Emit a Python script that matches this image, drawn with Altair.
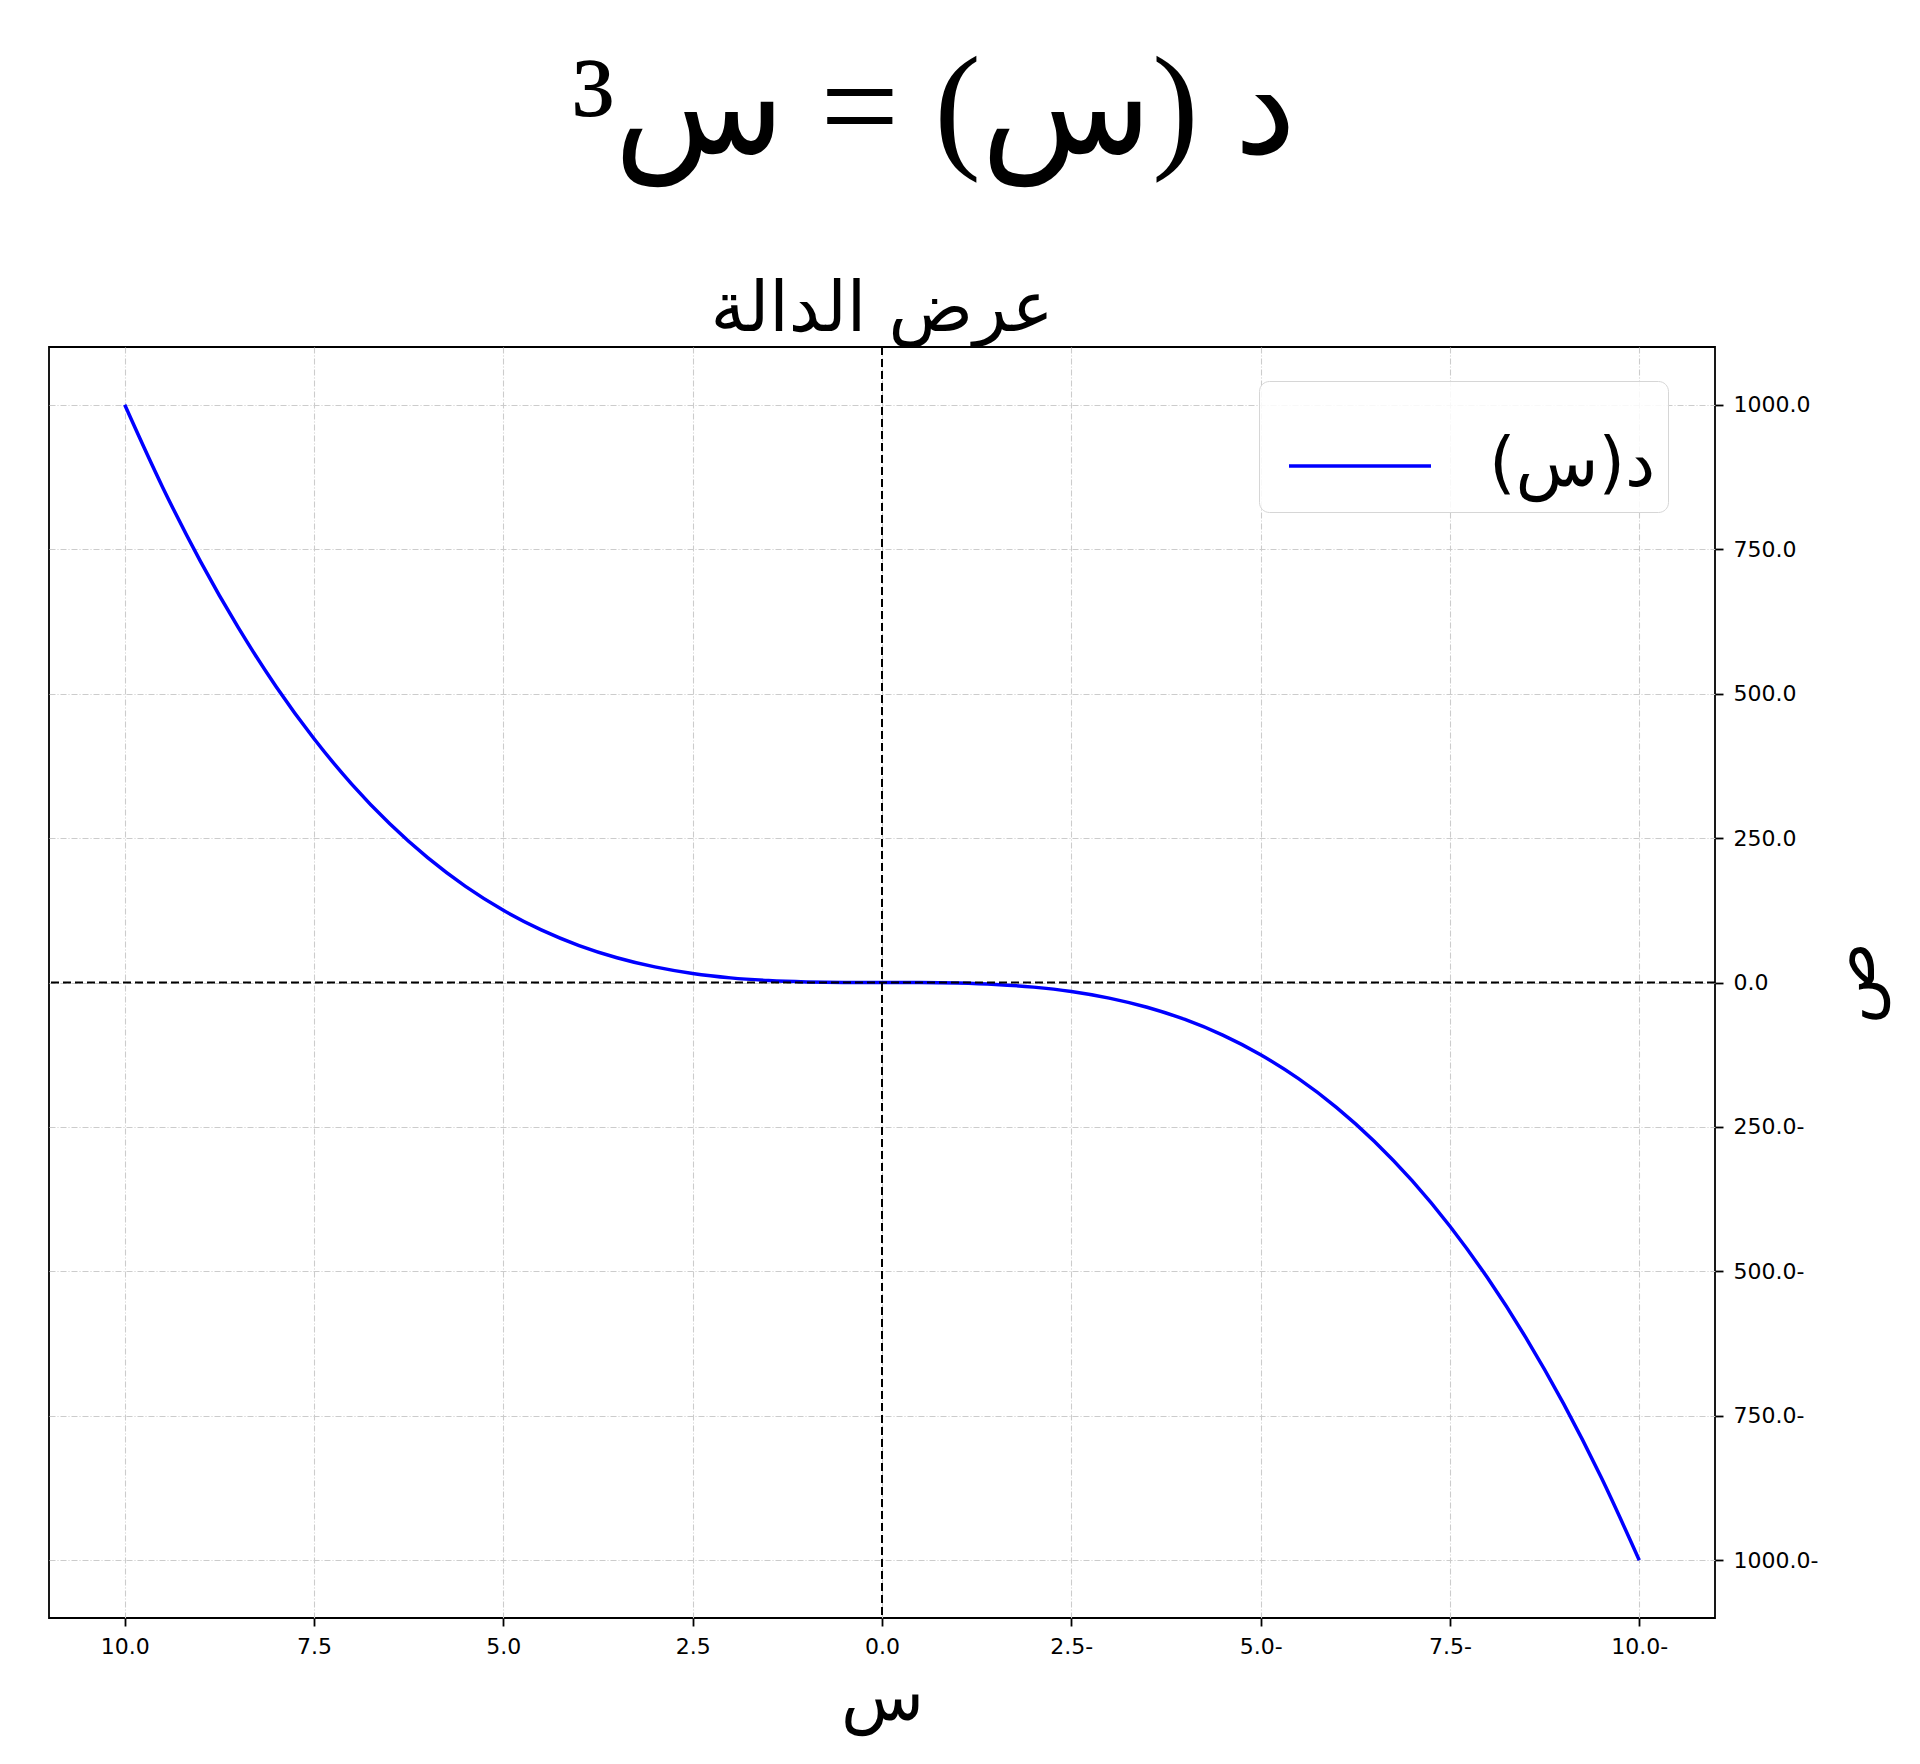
import altair as alt
import pandas as pd

# ---- data ----
x_vals = [-10.0, -9.5, -9.0, -8.5, -8.0, -7.5, -7.0, -6.5, -6.0, -5.5, -5.0,
          -4.5, -4.0, -3.5, -3.0, -2.5, -2.0, -1.5, -1.0, -0.5, 0.0,
          0.5, 1.0, 1.5, 2.0, 2.5, 3.0, 3.5, 4.0, 4.5, 5.0,
          5.5, 6.0, 6.5, 7.0, 7.5, 8.0, 8.5, 9.0, 9.5, 10.0]
y_vals = [-1000.0, -857.4, -729.0, -614.1, -512.0, -421.9, -343.0, -274.6, -216.0, -166.4, -125.0,
          -91.1, -64.0, -42.9, -27.0, -15.6, -8.0, -3.4, -1.0, -0.1, 0.0,
          0.1, 1.0, 3.4, 8.0, 15.6, 27.0, 42.9, 64.0, 91.1, 125.0,
          166.4, 216.0, 274.6, 343.0, 421.9, 512.0, 614.1, 729.0, 857.4, 1000.0]
x_ticks = [10.0, 7.5, 5.0, 2.5, 0.0, -2.5, -5.0, -7.5, -10.0]
y_ticks = [1000.0, 750.0, 500.0, 250.0, 0.0, -250.0, -500.0, -750.0, -1000.0]
zero_x = [0.0]
zero_y = [0.0]

RLE, PDF = "\u202B", "\u202C"
series_name = RLE + "د(س)" + PDF
main_title = RLE + "د (س) = س³" + PDF
sub_title = "عرض الدالة"
x_title = "س"
y_title = "ص"

df = pd.DataFrame({"x": x_vals, "y": y_vals, "series": [series_name] * len(x_vals)})
zdf = pd.DataFrame({"x": zero_x, "y": zero_y})

label_expr = "datum.value < 0 ? format(-datum.value, '.1f') + '-' : format(datum.value, '.1f')"

common_axis = dict(
    labelExpr=label_expr, labelFont="DejaVu Sans", labelFontSize=22, labelColor="black",
    tickSize=8, tickWidth=1.8, tickColor="black", domain=False,
    grid=True, gridDash=[6, 2, 1, 2], gridColor="#cccccc", gridWidth=1.1,
    titleFont="DejaVu Sans", titleFontSize=68, titleFontWeight="normal", titleColor="black",
)
x_axis = alt.Axis(values=x_ticks, labelPadding=10, titlePadding=8, **common_axis)
y_axis = alt.Axis(values=y_ticks, orient="right", labelPadding=10, titlePadding=70,
                  titleAngle=270, **common_axis)

xscale = alt.Scale(domain=[-11, 11], reverse=True, nice=False, zero=False)
yscale = alt.Scale(domain=[-1100, 1100], nice=False, zero=False)

line = alt.Chart(df).mark_line(strokeWidth=3.5, interpolate="monotone").encode(
    x=alt.X("x:Q", scale=xscale, title=x_title, axis=x_axis),
    y=alt.Y("y:Q", scale=yscale, title=y_title, axis=y_axis),
    color=alt.Color("series:N", scale=alt.Scale(range=["#0000ff"]),
                    legend=alt.Legend(title=None, orient="none", legendX=1210, legendY=34,
                                      symbolType="stroke", symbolSize=20164, symbolStrokeWidth=3.5,
                                      symbolOffset=16,
                                      labelFont="DejaVu Sans", labelFontSize=68, labelColor="black",
                                      labelLimit=500, labelOffset=56, padding=12, cornerRadius=10,
                                      strokeColor="#d6d6d6", fillColor="rgba(255,255,255,0.85)")),
)

vrule = alt.Chart(zdf).mark_rule(color="black", strokeDash=[8, 4], strokeWidth=2).encode(
    x=alt.X("x:Q", scale=xscale, title=x_title, axis=x_axis))
hrule = alt.Chart(zdf).mark_rule(color="black", strokeDash=[8, 4], strokeWidth=2).encode(
    y=alt.Y("y:Q", scale=yscale, title=y_title, axis=y_axis))

inner = alt.layer(line, vrule, hrule).properties(
    width=1666, height=1271,
    title=alt.Title(sub_title, font="DejaVu Sans", fontSize=70, fontWeight="normal", color="black",
                    anchor="middle", baseline="bottom", offset=-70),
)

chart = alt.vconcat(inner).properties(
    title=alt.Title(main_title, font="Liberation Serif", fontSize=140, fontWeight="normal",
                    color="black", anchor="middle", dx=-34, offset=92),
    padding={"left": 39, "top": 33, "right": 5, "bottom": 5},
).configure_view(stroke="black", strokeWidth=1.8)

chart.save("out.html", embed_options={"renderer": "svg", "actions": False})
